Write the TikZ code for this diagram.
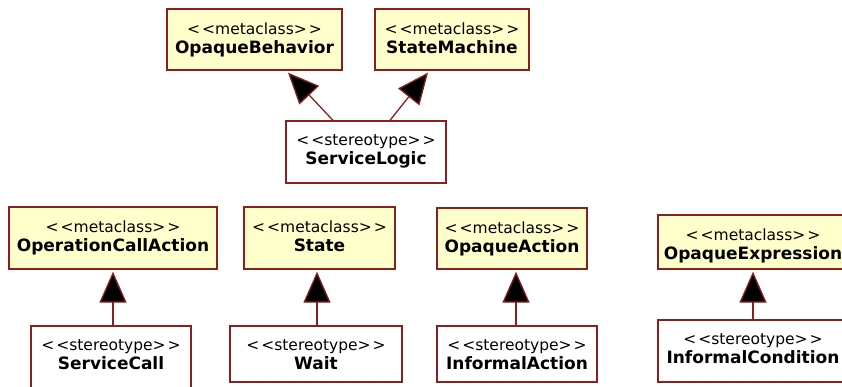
\documentclass[tikz,border=0pt]{standalone}
\usepackage{fontspec}
\setmainfont{DejaVu Sans}
\usetikzlibrary{arrows.meta}
\definecolor{umlred}{HTML}{8C1E1E}
\definecolor{umlfill}{HTML}{FFFFCC}
\tikzset{
  meta/.style={draw=umlred, line width=1.3pt, fill=umlfill, rectangle, inner sep=0pt},
  stereo/.style={draw=umlred, line width=1.3pt, fill=white, rectangle, inner sep=0pt},
  txt/.style={anchor=north, align=center, inner sep=0pt, yshift=-14pt, font=\fontsize{15.5}{19.5}\selectfont},
  gen/.style={draw=umlred, line width=1.3pt, -{Triangle[length=31pt,width=27pt,fill=black]}},
}
\newcommand{\stname}[1]{\fontsize{17}{19.5}\selectfont\bfseries #1}
\newcommand{\mc}{<\kern2pt<metaclass>\kern2pt>}
\newcommand{\stt}{<\kern2pt<stereotype>\kern2pt>}
\begin{document}
\begin{tikzpicture}[x=1pt,y=-1pt]
\useasboundingbox (0,0) rectangle (842,386);
\clip (0,0) rectangle (842,386);
% top row
\node[meta, minimum width=175pt, minimum height=61pt] (ob) at (254.5,39.5) {};
\node[txt] (obt) at (ob.north) {\mc\\\stname{OpaqueBehavior}};
\node[meta, minimum width=154pt, minimum height=61pt] (sm) at (452,39.5) {};
\node[txt] (smt) at (sm.north) {\mc\\\stname{StateMachine}};
\node[stereo, minimum width=160pt, minimum height=62pt] (sl) at (366,152) {};
\node[txt] (slt) at (sl.north) {\stt\\\stname{ServiceLogic}};
% bottom row metaclasses
\node[meta, minimum width=208pt, minimum height=62pt] (oca) at (113,238) {};
\node[txt] (ocat) at (oca.north) {\mc\\\stname{OperationCallAction}};
\node[meta, minimum width=151pt, minimum height=62pt] (st) at (319.5,238) {};
\node[txt] (stt) at (st.north) {\mc\\\stname{State}};
\node[meta, minimum width=150pt, minimum height=61pt] (oa) at (512,238.5) {};
\node[txt] (oat) at (oa.north) {\mc\\\stname{OpaqueAction}};
\node[meta, minimum width=190pt, minimum height=54pt] (oe) at (753,242) {};
\node[txt] (oet) at (oe.north) {\mc\\\stname{OpaqueExpression}};
% bottom row stereotypes
\node[stereo, minimum width=160pt, minimum height=66pt] (sc) at (111,359) {};
\node[txt] (sct) at (sc.north) {\stt\\\stname{ServiceCall}};
\node[stereo, minimum width=172pt, minimum height=56pt] (wt) at (316,354) {};
\node[txt] (wtt) at (wt.north) {\stt\\\stname{Wait}};
\node[stereo, minimum width=160pt, minimum height=56pt] (ia) at (517,354) {};
\node[txt] (iat) at (ia.north) {\stt\\\stname{InformalAction}};
\node[stereo, minimum width=190pt, minimum height=62pt] (ic) at (753,351) {};
\node[txt] (ict) at (ic.north) {\stt\\\stname{InformalCondition}};
% generalizations
\draw[gen] ([xshift=-33pt]sl.north) -- ([xshift=33.5pt, yshift=-2pt]ob.south);
\draw[gen] ([xshift=24pt]sl.north) -- ([xshift=-24pt, yshift=-2pt]sm.south);
\draw[gen] (sc.north -| oca.south) -- ([yshift=-2pt]oca.south);
\draw[gen] ([xshift=1pt]wt.north) -- ([xshift=-2.5pt, yshift=-2pt]st.south);
\draw[gen] ([xshift=-1pt]ia.north) -- ([xshift=4pt, yshift=-2pt]oa.south);
\draw[gen] (ic.north) -- ([yshift=-2pt]oe.south);
\end{tikzpicture}
\end{document}
